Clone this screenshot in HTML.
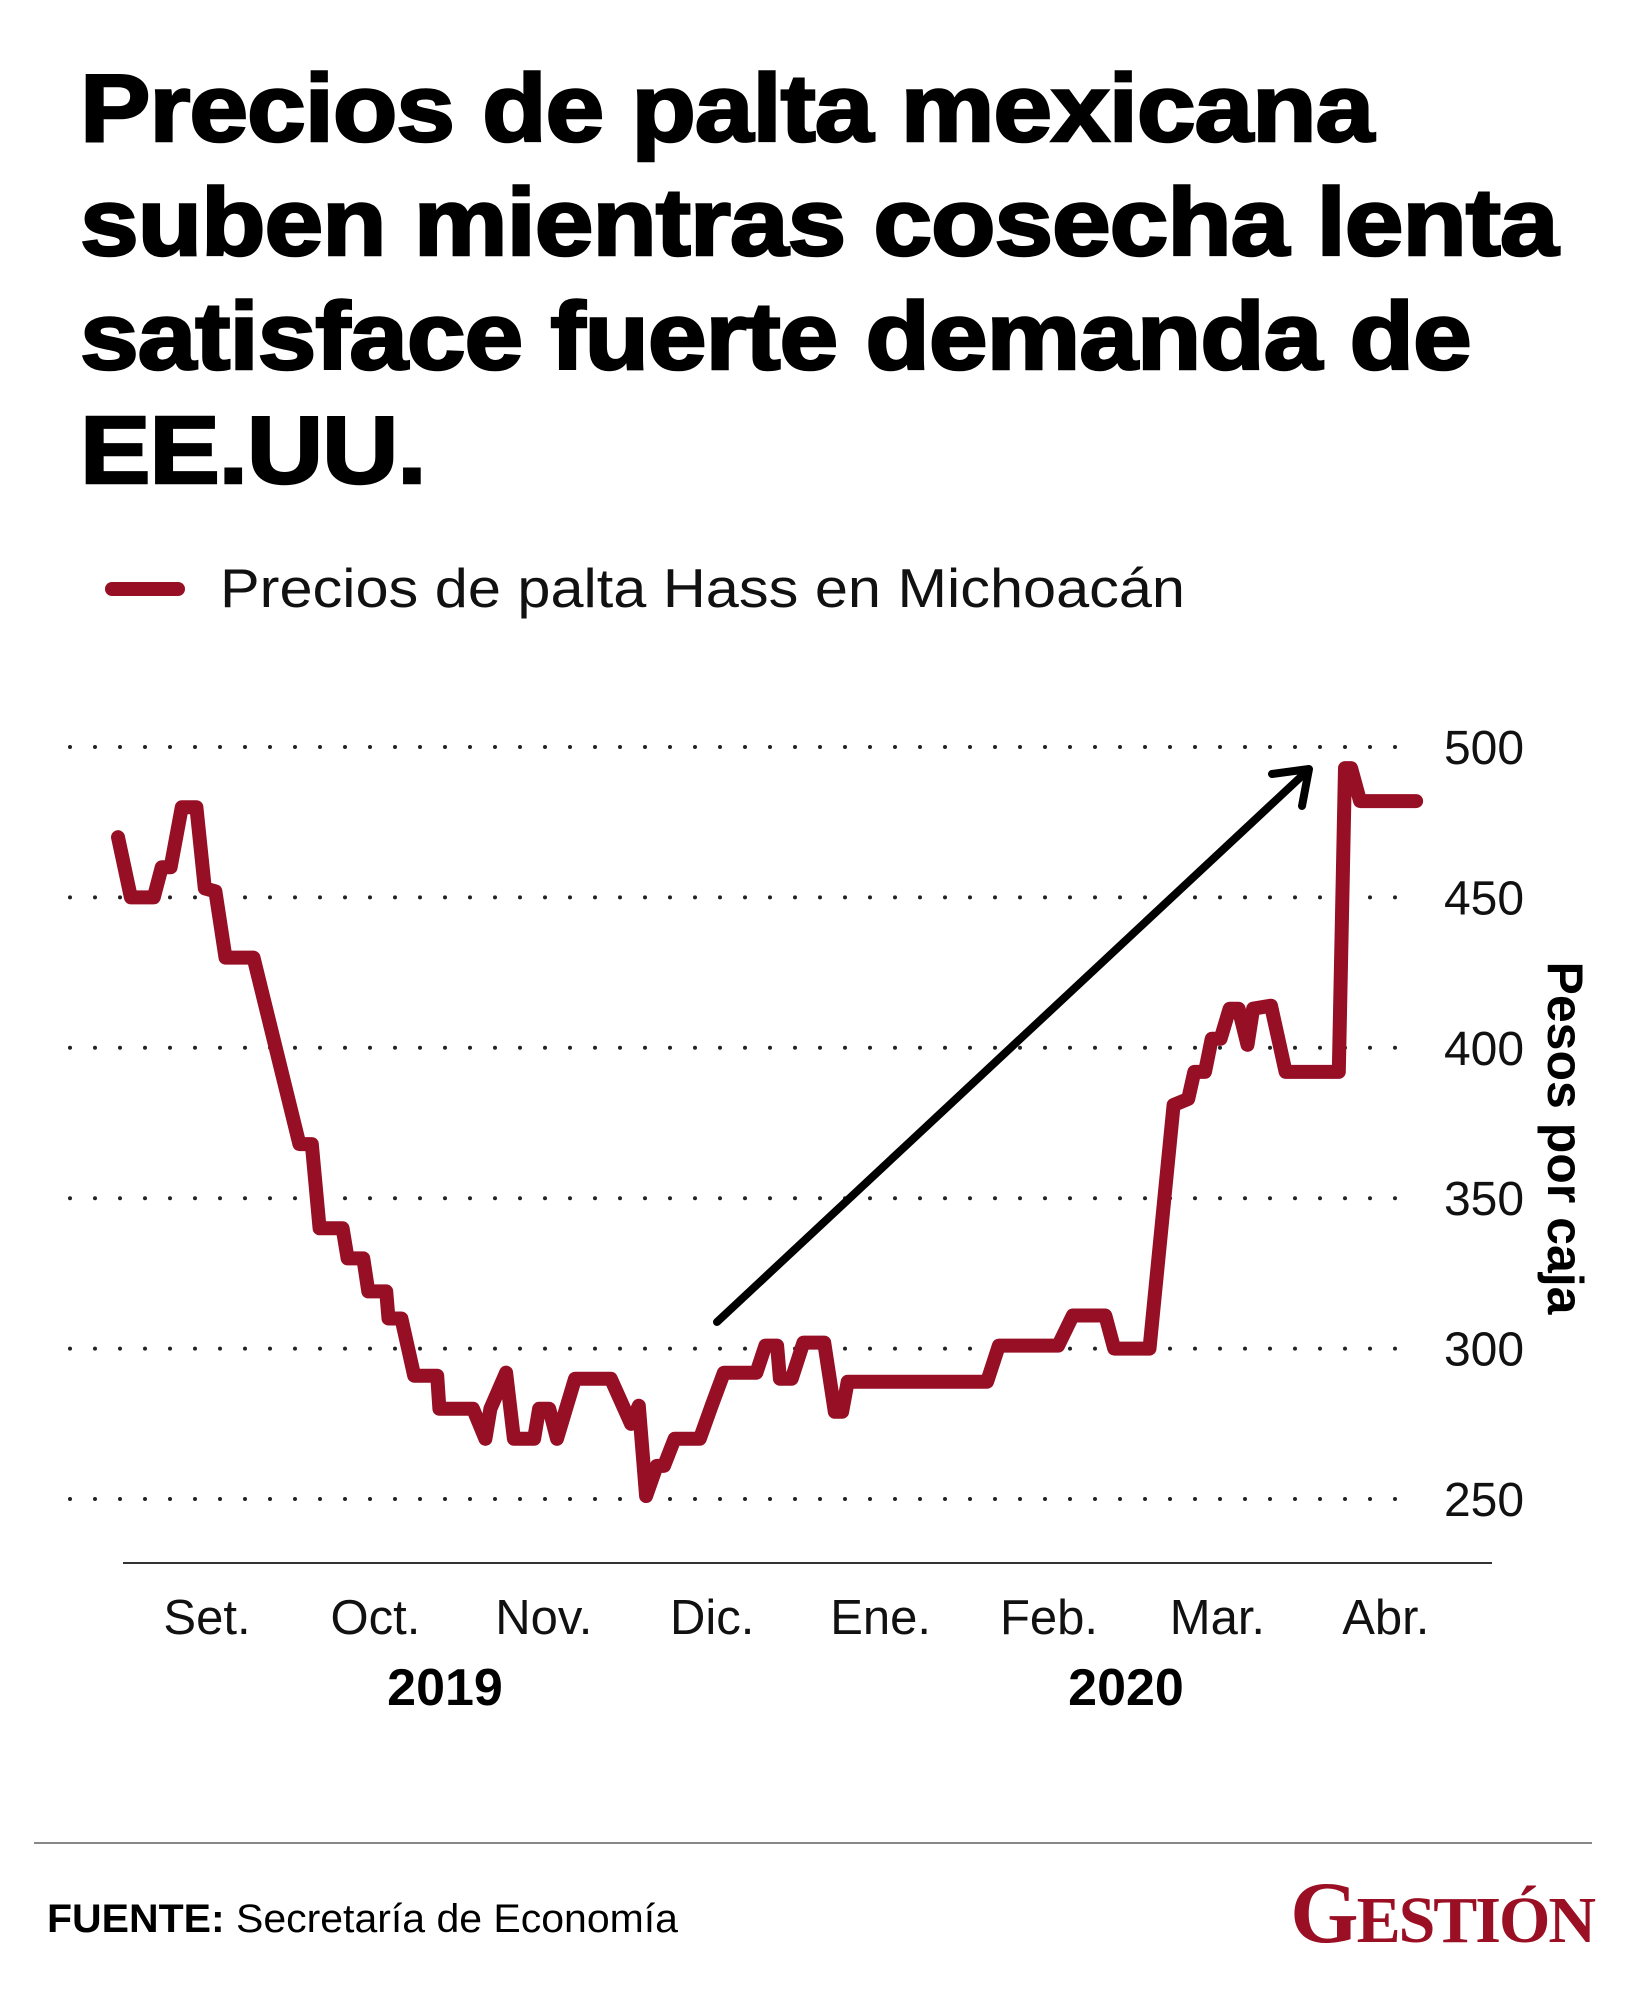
<!DOCTYPE html>
<html><head><meta charset="utf-8"><style>
html,body{margin:0;padding:0;background:#fff;}
body{width:1628px;height:1998px;position:relative;overflow:hidden;font-family:"Liberation Sans",sans-serif;}
.title{position:absolute;left:80px;top:52px;font-weight:bold;font-size:96px;line-height:114px;color:#000;letter-spacing:-1px;transform:scaleX(1.10);transform-origin:0 0;-webkit-text-stroke:2.5px #000;white-space:nowrap;}
</style></head><body>
<div class="title">Precios de palta mexicana<br>suben mientras cosecha lenta<br>satisface fuerte demanda de<br>EE.UU.</div>
<svg width="1628" height="1998" style="position:absolute;left:0;top:0" id="chart">
<g>
<line x1="112" y1="589" x2="178" y2="589" stroke="#960f25" stroke-width="14" stroke-linecap="round"/>
<text x="220" y="607" font-size="55" fill="#111" textLength="965" lengthAdjust="spacingAndGlyphs">Precios de palta Hass en Michoacán</text>
</g>
<g id="grid"></g>
<g id="xaxis"></g>
<text transform="translate(1548,1138) rotate(90)" text-anchor="middle" font-size="50" font-weight="bold">Pesos por caja</text>
<g>
<line x1="717" y1="1322" x2="1305" y2="773" stroke="#000" stroke-width="8" stroke-linecap="round"/>
<polyline points="1272,774 1309,769 1302,806" fill="none" stroke="#000" stroke-width="8" stroke-linecap="round" stroke-linejoin="round"/>
</g>
<path id="series" fill="none" stroke="#960f25" stroke-width="14" stroke-linejoin="round" stroke-linecap="round"/>
<line x1="34" y1="1843" x2="1592" y2="1843" stroke="#888" stroke-width="2"/>
<text x="47" y="1932" font-size="40" textLength="631" lengthAdjust="spacingAndGlyphs"><tspan font-weight="bold">FUENTE:</tspan> Secretaría de Economía</text>
<text x="1594" y="1942" text-anchor="end" font-family="Liberation Serif,serif" font-weight="bold" font-size="66" fill="#9b0f24" letter-spacing="-2"><tspan font-size="88">G</tspan>ESTIÓN</text>
</svg>
<script>
const yTicks=[250,300,350,400,450,500];
const months=["Set.","Oct.","Nov.","Dic.","Ene.","Feb.","Mar.","Abr."];
const years=["2019","2020"];
const days=[0,2.3,6.4,7.8,9.4,11.4,14,15.5,17.4,19.2,24.2,32.4,34.6,36,40.1,41,43.8,44.7,47.9,48.3,50.6,52.9,57,57.4,63.4,65.6,66.5,69.3,70.7,74.3,75.2,77,78.4,81.6,88,91.6,93,94.3,96.2,97.5,99.4,103.9,106.0,108.2,114.0,115.6,117.7,118.2,120.3,122.4,126.1,128.0,129.3,130.3,155.2,157.3,167.9,170.5,176.3,177.9,184.2,188.5,191.1,192.2,194.1,195.3,196.9,198.5,200.1,201.7,202.7,205.9,208.5,218.0,219.1,220.2,221.8,231.8];
const prices=[470,450,450,460,460,480,480,453,452,430,430,368,368,340,340,330,330,319,319,310,310,291,291,280,280,270,280,292,270,270,280,280,270,290,290,275,281,251,261,261,270,270,281,292,292,301,301,290,290,302,302,279,279,289,289,301,301,311,311,300,300,381,383,392,392,403,403,413,413,401,413,414,392,392,493,493,482,482];
const NS="http://www.w3.org/2000/svg";
function x(d){return 118+d*5.6;}
function y(v){return 747+(500-v)*3.008;}
function monthX(i){return 207+i*168.4;}
const grid=document.getElementById('grid');
yTicks.forEach(v=>{
  const l=document.createElementNS(NS,'line');
  l.setAttribute('x1',70);l.setAttribute('x2',1412);l.setAttribute('y1',y(v));l.setAttribute('y2',y(v));
  l.setAttribute('stroke','#222');l.setAttribute('stroke-width','4');l.setAttribute('stroke-linecap','round');l.setAttribute('stroke-dasharray','0 25');
  
  
  grid.appendChild(l);
  const t=document.createElementNS(NS,'text');
  t.setAttribute('x',1484);t.setAttribute('y',y(v)+17);t.setAttribute('text-anchor','middle');t.setAttribute('font-size','48');t.setAttribute('fill','#111');
  t.textContent=v;
  
  
  grid.appendChild(t);
});
const xa=document.getElementById('xaxis');
const ax=document.createElementNS(NS,'line');
ax.setAttribute('x1',123);ax.setAttribute('x2',1492);ax.setAttribute('y1',1563);ax.setAttribute('y2',1563);ax.setAttribute('stroke','#333');ax.setAttribute('stroke-width','2');


xa.appendChild(ax);
months.forEach((m,i)=>{
  const t=document.createElementNS(NS,'text');
  t.setAttribute('x',monthX(i));t.setAttribute('y',1634);t.setAttribute('text-anchor','middle');t.setAttribute('font-size','49');t.setAttribute('fill','#111');
  t.textContent=m;
  
  
  xa.appendChild(t);
});
[445,1126].forEach((px,i)=>{
  const t=document.createElementNS(NS,'text');
  t.setAttribute('x',px);t.setAttribute('y',1705);t.setAttribute('text-anchor','middle');t.setAttribute('font-size','52');t.setAttribute('font-weight','bold');
  t.textContent=years[i];
  
  
  xa.appendChild(t);
});
document.getElementById('series').setAttribute('d',days.map((d,i)=>(i?'L':'M')+x(d).toFixed(1)+','+y(prices[i]).toFixed(1)).join(' '));
</script>
</body></html>
